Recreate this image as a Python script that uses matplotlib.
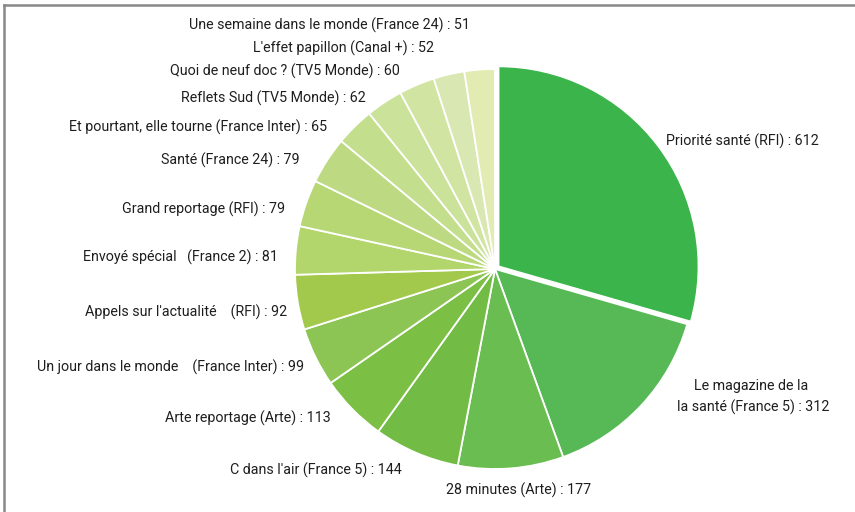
import matplotlib
matplotlib.use("Agg")
import matplotlib.pyplot as plt
from matplotlib.lines import Line2D

programmes = [
    "Priorité santé (RFI)",
    "Le magazine de la \nla santé (France 5)",
    "28 minutes (Arte)",
    "C dans l'air (France 5)",
    "Arte reportage (Arte)",
    "Un jour dans le monde    (France Inter)",
    "Appels sur l'actualité    (RFI)",
    "Envoyé spécial   (France 2)",
    "Grand reportage (RFI)",
    "Santé (France 24)",
    "Et pourtant, elle tourne (France Inter)",
    "Reflets Sud (TV5 Monde)",
    "Quoi de neuf doc ? (TV5 Monde)",
    "L'effet papillon (Canal +)",
    "Une semaine dans le monde (France 24)",
]
valeurs = [612, 312, 177, 144, 113, 99, 92, 81, 79, 79, 65, 62, 60, 52, 51]

couleurs = ["#3bb54b", "#57b956", "#6abd50", "#72bc45", "#7bbf44", "#8cc554",
            "#a2c94b", "#b2d56c", "#b6d773", "#bdda82", "#c3de8c", "#cbe29a",
            "#d1e4a2", "#d9e8b2", "#e2ebb1"]
explode = [0.022] + [0] * (len(valeurs) - 1)

# label anchor positions in pixels (x, y from top, horizontal alignment)
label_pos = [
    (666, 141, "left"),
    (677, 397, "left"),
    (446, 490, "left"),
    (402, 470, "right"),
    (331, 418, "right"),
    (304, 367, "right"),
    (287, 312, "right"),
    (278, 257, "right"),
    (285, 209, "right"),
    (300, 160, "right"),
    (327, 127, "right"),
    (366, 98, "right"),
    (400, 71, "right"),
    (434, 48, "right"),
    (470, 25, "right"),
]

W, H = 855, 512
fig = plt.figure(figsize=(W / 100, H / 100), dpi=100)
fig.patch.set_facecolor("white")

cx, cy, r = 495, 269, 200
lim = 1.1
ax = fig.add_axes([(cx - r * lim) / W, (H - cy - r * lim) / H, 2 * r * lim / W, 2 * r * lim / H])
ax.pie(valeurs, colors=couleurs, startangle=90, counterclock=False, explode=explode,
       radius=1.0, wedgeprops=dict(edgecolor="white", linewidth=1.3))
ax.set_xlim(-lim, lim)
ax.set_ylim(-lim, lim)
ax.set_aspect("equal")
ax.axis("off")

for name, val, (px, py, ha) in zip(programmes, valeurs, label_pos):
    fig.text(px / W, 1 - py / H, f"{name} : {val}", ha=ha, va="center",
             fontsize=10.3, family="Roboto", color="#1e1e1e",
             multialignment="center", linespacing=1.5)

# partial frame (top and left)
fig.add_artist(Line2D([4 / W, 1], [1 - 5 / H, 1 - 5 / H], transform=fig.transFigure,
                      color="#888888", linewidth=1.8))
fig.add_artist(Line2D([4 / W, 4 / W], [0, 1 - 5 / H], transform=fig.transFigure,
                      color="#888888", linewidth=1.8))

fig.savefig("out.png", dpi=100, facecolor="white")
